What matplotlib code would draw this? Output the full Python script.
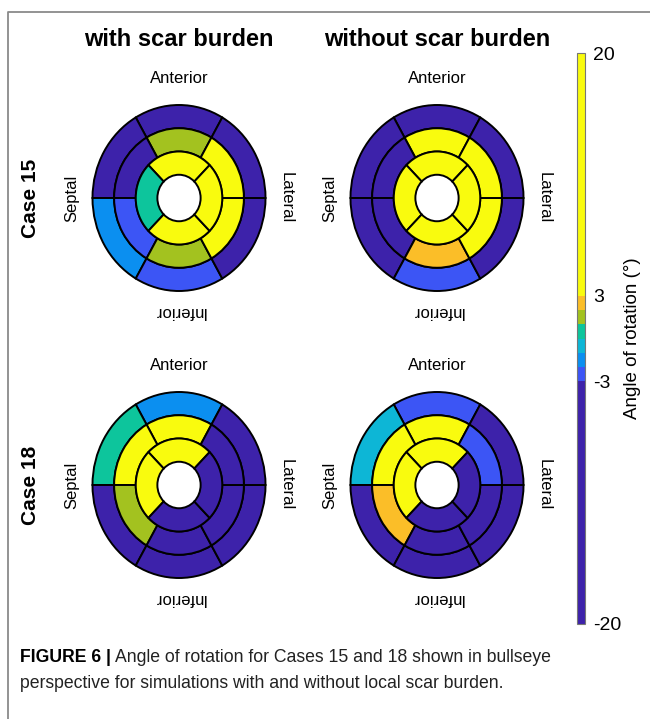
import matplotlib
matplotlib.use("Agg")
import matplotlib.pyplot as plt
from matplotlib.patches import Wedge
from matplotlib.colors import ListedColormap, BoundaryNorm
from matplotlib.colorbar import ColorbarBase
from matplotlib.lines import Line2D

plt.rcParams["font.family"] = ["Liberation Sans", "DejaVu Sans"]
plt.rcParams["axes.unicode_minus"] = False

# ---- data: rotation angle (degrees) per AHA segment ----
# basal / mid order: anterior, anteroseptal, inferoseptal, inferior, inferolateral, anterolateral
# apical order: anterior, septal, inferior, lateral
case15_scar_basal = [-12, -10, -1.5, -2.5, -11, -13]
case15_scar_mid = [1.5, -8, -2.5, 1.5, 8, 9]
case15_scar_apical = [10, 0.5, 9, 12]

case15_noscar_basal = [-12, -10, -8, -2.5, -11, -13]
case15_noscar_mid = [8, -9, -7, 2.5, 7, 9]
case15_noscar_apical = [10, 9, 8, 12]

case18_scar_basal = [-1.5, 0.5, -9, -12, -11, -13]
case18_scar_mid = [6, 7, 1.5, -9, -10, -8]
case18_scar_apical = [8, 7, -9, -10]

case18_noscar_basal = [-2.5, -0.5, -9, -12, -11, -13]
case18_noscar_mid = [6, 7, 2.5, -9, -10, -2.5]
case18_noscar_apical = [8, 7, -9, -10]

column_titles = ["with scar burden", "without scar burden"]
row_titles = ["Case 15", "Case 18"]
cbar_bounds = [-20, -3, -2, -1, 0, 1, 2, 3, 20]
cbar_ticks = [-20, -3, 3, 20]
cbar_colors = ["#3d22aa", "#3c55f5", "#0b8ff0", "#0db6d6",
               "#0dc59c", "#a3c21f", "#fbbe28", "#f9fb0e"]

panels = [
    [(case15_scar_basal, case15_scar_mid, case15_scar_apical),
     (case15_noscar_basal, case15_noscar_mid, case15_noscar_apical)],
    [(case18_scar_basal, case18_scar_mid, case18_scar_apical),
     (case18_noscar_basal, case18_noscar_mid, case18_noscar_apical)],
]

cmap = ListedColormap(cbar_colors)
norm = BoundaryNorm(cbar_bounds, cmap.N)

W, H = 650, 719
fig = plt.figure(figsize=(W / 100, H / 100), dpi=100)


def px_rect(x, y_top, w, h):
    return [x / W, 1 - (y_top + h) / H, w / W, h / H]


# frame around the figure panel
frame = fig.add_axes([0, 0, 1, 1])
frame.set_xlim(0, W)
frame.set_ylim(H, 0)
frame.axis("off")
frame.add_line(Line2D([8, 8, W], [H, 12, 12], color="#8a8a8a", lw=1.3))

# bullseye geometry (in axes data units, axes spans the outer ellipse)
ring_edges = [1.0, 0.75, 0.5, 0.25]
six_starts = [60, 120, 180, 240, 300, 0]
four_starts = [45, 135, 225, 315]
centers_x = [179, 437]
centers_y = [198, 485]
a_px, b_px = 86.5, 93

for r in range(2):
    for c in range(2):
        basal, mid, apical = panels[r][c]
        ax = fig.add_axes(px_rect(centers_x[c] - a_px, centers_y[r] - b_px,
                                  2 * a_px, 2 * b_px))
        ax.set_xlim(-1, 1)
        ax.set_ylim(-1, 1)
        ax.axis("off")
        rings = [(basal, six_starts, 60), (mid, six_starts, 60), (apical, four_starts, 90)]
        for i, (vals, starts, span) in enumerate(rings):
            r_out = ring_edges[i]
            width = ring_edges[i] - ring_edges[i + 1]
            for v, t0 in zip(vals, starts):
                ax.add_patch(Wedge((0, 0), r_out, t0, t0 + span, width=width,
                                   facecolor=cmap(norm(v)), edgecolor="black",
                                   lw=1.4, clip_on=False))
        ax.text(0, 1.29, "Anterior", ha="center", va="center", fontsize=12)
        ax.text(0, -1.22, "Inferior", ha="center", va="center", fontsize=12,
                rotation=180)
        ax.text(-1.24, 0, "Septal", ha="center", va="center", fontsize=12,
                rotation=90)
        ax.text(1.24, 0, "Lateral", ha="center", va="center", fontsize=12,
                rotation=-90)

for c, t in enumerate(column_titles):
    fig.text(centers_x[c] / W, 1 - 40 / H, t, ha="center", va="center",
             fontsize=17, fontweight="bold")
for r, t in enumerate(row_titles):
    fig.text(31 / W, 1 - centers_y[r] / H, t, ha="center", va="center",
             fontsize=15, fontweight="bold", rotation=90)

# colorbar with proportional band heights
cax = fig.add_axes(px_rect(577, 53, 8, 571))
cb = ColorbarBase(cax, cmap=cmap, norm=norm, boundaries=cbar_bounds,
                  spacing="proportional", ticks=cbar_ticks)
cb.outline.set_edgecolor("#777777")
cb.outline.set_linewidth(0.8)
cax.minorticks_off()
cax.tick_params(which="both", length=0, labelsize=14, pad=6)
cb.set_label("Angle of rotation (°)", fontsize=13.5, labelpad=2)

# caption
fig.canvas.draw()
renderer = fig.canvas.get_renderer()
bold = fig.text(20 / W, 1 - 657 / H, "FIGURE 6 |", fontsize=12.7,
                fontweight="bold", va="center", ha="left")
ext = bold.get_window_extent(renderer)
fig.text((ext.x1 + 4) / W, 1 - 657 / H,
         "Angle of rotation for Cases 15 and 18 shown in bullseye",
         fontsize=12.7, va="center", ha="left", color="#222222")
fig.text(20 / W, 1 - 684 / H,
         "perspective for simulations with and without local scar burden.",
         fontsize=12.7, va="center", ha="left", color="#222222")

fig.savefig("out.png", dpi=100)
